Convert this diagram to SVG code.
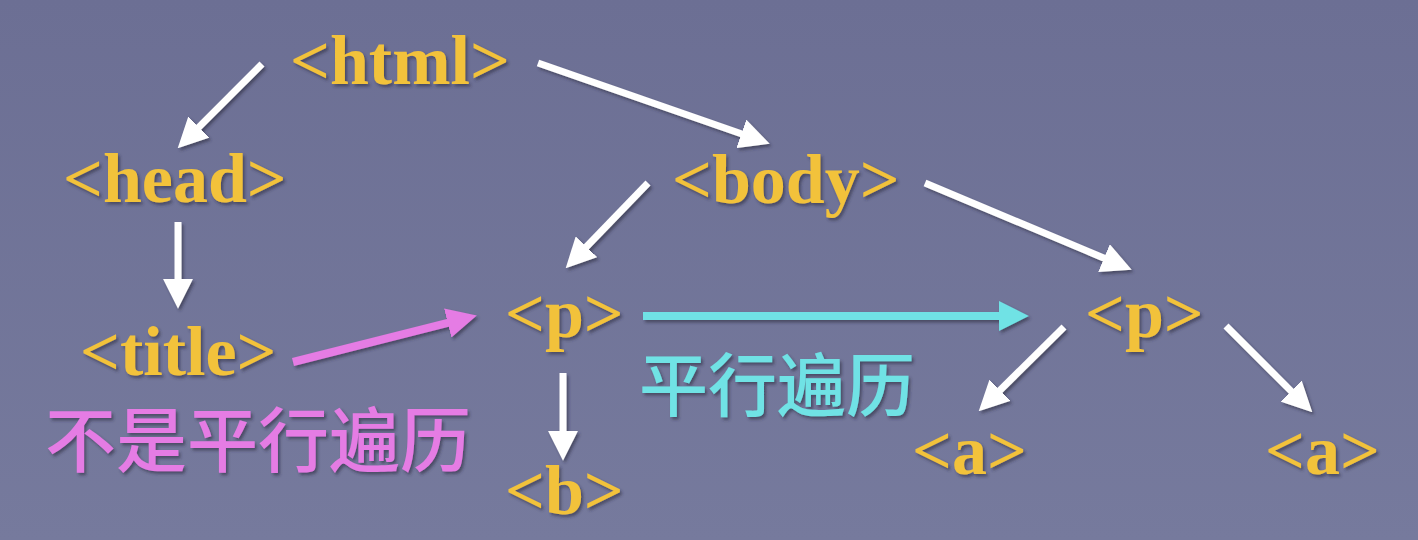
<svg xmlns="http://www.w3.org/2000/svg" width="1418" height="540" viewBox="0 0 1418 540">
<defs>
  <linearGradient id="bg" x1="0" y1="0" x2="0" y2="1">
    <stop offset="0" stop-color="#6c6f94"/>
    <stop offset="1" stop-color="#767a9d"/>
  </linearGradient>
  <filter id="sh" x="-10%" y="-10%" width="130%" height="140%">
    <feDropShadow dx="2" dy="2.5" stdDeviation="1.5" flood-color="#2a2a40" flood-opacity="0.6"/>
  </filter>
  <marker id="hw" markerUnits="userSpaceOnUse" markerWidth="30" markerHeight="30" viewBox="0 0 28 28" refX="2" refY="14" orient="auto">
    <path d="M0,0 L28,14 L0,28 z" fill="#ffffff"/>
  </marker>
  <marker id="hm" markerUnits="userSpaceOnUse" markerWidth="30" markerHeight="30" viewBox="0 0 28 28" refX="2" refY="14" orient="auto">
    <path d="M0,0 L28,14 L0,28 z" fill="#e57be4"/>
  </marker>
  <marker id="hc" markerUnits="userSpaceOnUse" markerWidth="30" markerHeight="30" viewBox="0 0 28 28" refX="2" refY="14" orient="auto">
    <path d="M0,0 L28,14 L0,28 z" fill="#6fe2e5"/>
  </marker>
</defs>
<style>
  .tag { font-family: "Liberation Serif", "Times New Roman", serif; font-weight: bold; font-size: 70px; fill: #f2c23a; }
  .cn { font-family: "Noto Sans CJK SC", sans-serif; font-weight: 500; }
  .w { stroke: #ffffff; stroke-width: 7; fill: none; marker-end: url(#hw); }
  .m { stroke: #e57be4; stroke-width: 8; fill: none; marker-end: url(#hm); }
  .c { stroke: #6fe2e5; stroke-width: 8; fill: none; marker-end: url(#hc); }
</style>
<rect width="1418" height="540" fill="url(#bg)"/>
<g id="connectors" filter="url(#sh)">
  <line class="w" x1="262" y1="64" x2="197.4" y2="128.6"/>
  <line class="w" x1="538" y1="63" x2="743.4" y2="134.5"/>
  <line class="w" x1="178" y1="222" x2="178" y2="281"/>
  <line class="w" x1="648" y1="183" x2="585" y2="248.3"/>
  <line class="w" x1="925" y1="183" x2="1106" y2="258.9"/>
  <line class="m" x1="293" y1="362" x2="449.8" y2="322.4"/>
  <line class="c" x1="643" y1="316" x2="1001" y2="316"/>
  <line class="w" x1="563" y1="373" x2="563" y2="433"/>
  <line class="w" x1="1064" y1="327" x2="998.5" y2="391.7"/>
  <line class="w" x1="1226" y1="326" x2="1292.6" y2="392.6"/>
</g>
<g filter="url(#sh)">
  <g id="html"><text class="tag" x="290" y="84">&lt;html&gt;</text></g>
  <g id="head"><text class="tag" x="63" y="202">&lt;head&gt;</text></g>
  <g id="body"><text class="tag" x="672" y="203">&lt;body&gt;</text></g>
  <g id="title"><text class="tag" x="80" y="375">&lt;title&gt;</text></g>
  <g id="p1"><text class="tag" x="505" y="337">&lt;p&gt;</text></g>
  <g id="p2"><text class="tag" x="1085" y="337">&lt;p&gt;</text></g>
  <g id="b"><text class="tag" x="505" y="514">&lt;b&gt;</text></g>
  <g id="a1"><text class="tag" x="912" y="474">&lt;a&gt;</text></g>
  <g id="a2"><text class="tag" x="1265" y="474">&lt;a&gt;</text></g>
  <g id="label-not-parallel"><text class="cn" x="45" y="466" font-size="71" fill="#e57be4">不是平行遍历</text></g>
  <g id="label-parallel"><text class="cn" x="639" y="411" font-size="69" fill="#6fe2e5">平行遍历</text></g>
</g>
</svg>
